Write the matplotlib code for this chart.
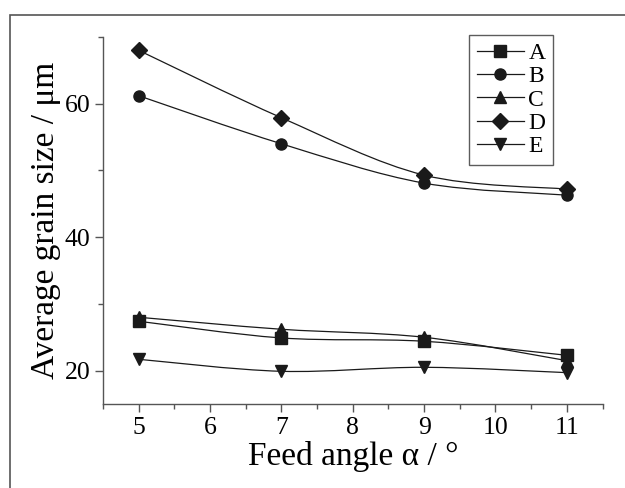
import numpy as np
import matplotlib
matplotlib.use("Agg")
import matplotlib.pyplot as plt
from matplotlib.path import Path
from matplotlib.patches import PathPatch, Rectangle
from matplotlib.lines import Line2D
from matplotlib.ticker import MultipleLocator

# data
feed_angle = [5, 7, 9, 11]
series_names = ["A", "B", "C", "D", "E"]
grain_a = [27.4, 24.9, 24.4, 22.3]
grain_b = [61.2, 54.0, 48.1, 46.3]
grain_c = [28.0, 26.2, 25.0, 21.5]
grain_d = [68.0, 57.9, 49.3, 47.2]
grain_e = [21.7, 19.9, 20.5, 19.7]
markers = ["s", "o", "^", "D", "v"]

plt.rcParams['font.family'] = ['Liberation Serif', 'DejaVu Serif']

fig = plt.figure(figsize=(6.25, 4.88), dpi=100)
ax = fig.add_axes([103 / 625, 1 - 404 / 488, 499.5 / 625, 367 / 488])

# outer frame of the figure
fig.patches.append(Rectangle((10 / 625, -0.1), 1.2, 0.1 + 1 - 15 / 488,
                             transform=fig.transFigure, fill=False,
                             edgecolor='#555555', lw=1.2))


# smooth connecting line (catmull-rom style bezier through the points)
def smooth_path(xs, ys):
    pts = np.column_stack([xs, ys]).astype(float)
    verts = [pts[0]]
    codes = [Path.MOVETO]
    n = len(pts)
    for i in range(n - 1):
        p0 = pts[i - 1] if i > 0 else pts[i]
        p1 = pts[i]
        p2 = pts[i + 1]
        p3 = pts[i + 2] if i + 2 < n else pts[i + 1]
        c1 = p1 + (p2 - p0) / 6
        c2 = p2 - (p3 - p1) / 6
        verts += [c1, c2, p2]
        codes += [Path.CURVE4] * 3
    return Path(verts, codes)


all_series = [grain_a, grain_b, grain_c, grain_d, grain_e]
handles = []
for name, vals, m in zip(series_names, all_series, markers):
    ax.add_patch(PathPatch(smooth_path(feed_angle, vals), fill=False,
                           edgecolor='#1a1a1a', lw=0.9))
    ms = 8.5 if m == 'D' else 8
    ax.plot(feed_angle, vals, linestyle='none', marker=m, ms=ms,
            color='#1a1a1a')
    handles.append(Line2D([], [], color='#1a1a1a', lw=0.9, marker=m,
                          ms=ms, label=name))

ax.set_xlim(4.5, 11.5)
ax.set_ylim(15, 70)
ax.xaxis.set_major_locator(MultipleLocator(1))
ax.xaxis.set_minor_locator(MultipleLocator(0.5))
ax.yaxis.set_major_locator(MultipleLocator(20))
ax.yaxis.set_minor_locator(MultipleLocator(10))

for s in ['top', 'right']:
    ax.spines[s].set_visible(False)
for s in ['left', 'bottom']:
    ax.spines[s].set_color('#555555')
    ax.spines[s].set_linewidth(1.0)
ax.tick_params(which='major', length=6, width=1, color='#555555',
               labelsize=18.5, pad=3)
ax.tick_params(which='minor', length=3.5, width=1, color='#555555')

ax.set_xlabel('Feed angle α / °', fontsize=24, labelpad=2)
ax.set_ylabel('Average grain size / μm', fontsize=24, labelpad=3)

leg = ax.legend(handles=handles, loc='upper right', bbox_to_anchor=(0.9, 1.005),
                fontsize=17, frameon=True, fancybox=False, handlelength=2.0,
                handletextpad=0.2, labelspacing=0.08, borderpad=0.3,
                borderaxespad=0)
leg.get_frame().set_edgecolor('#333333')
leg.get_frame().set_linewidth(1.0)

plt.savefig('out.png', dpi=100)
